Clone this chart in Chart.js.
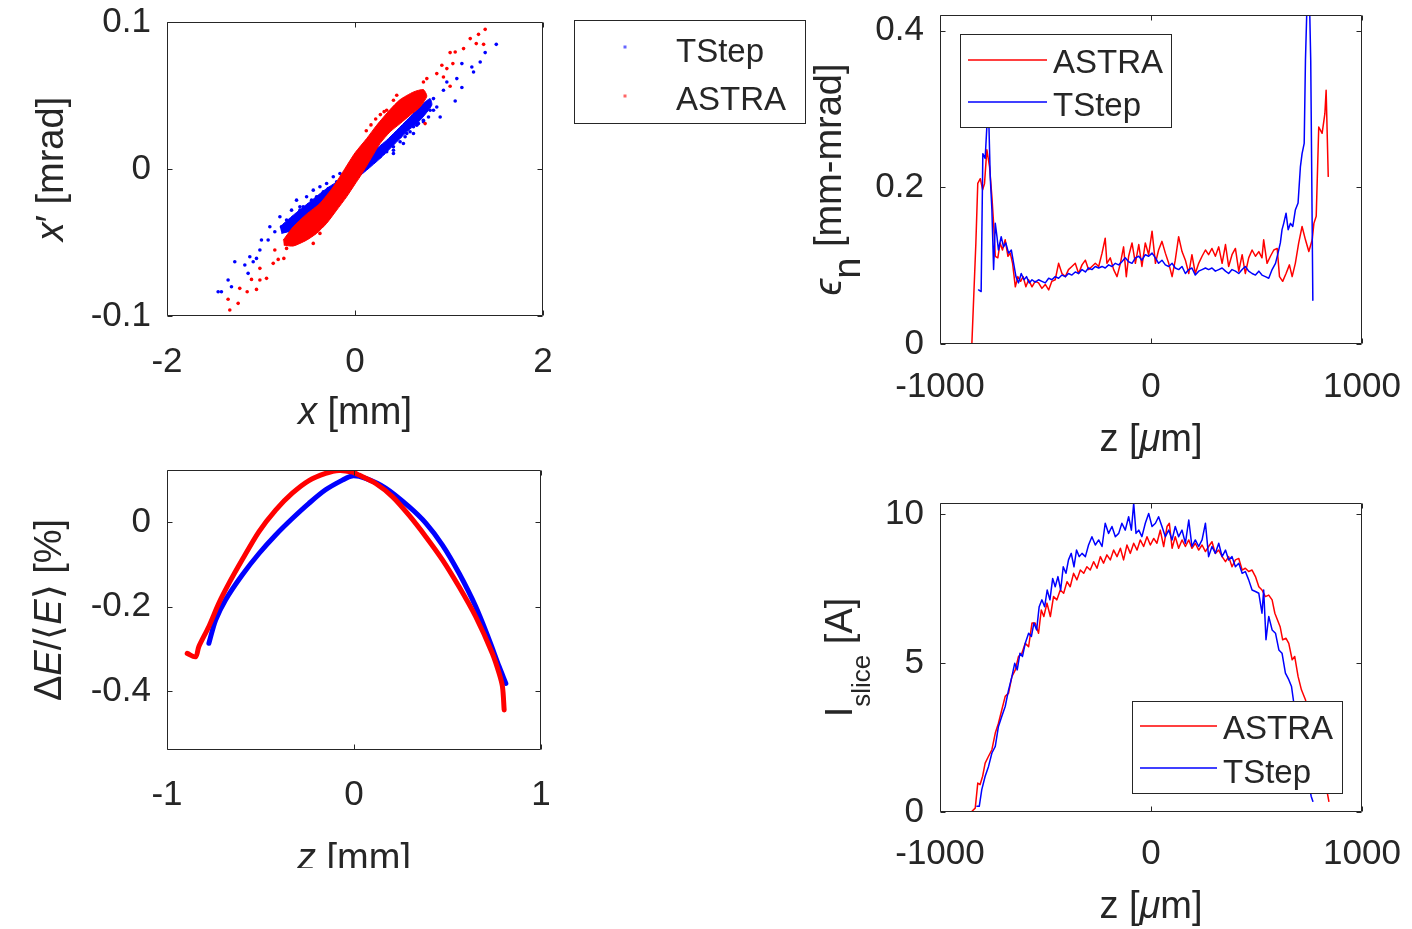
<!DOCTYPE html>
<html>
<head>
<meta charset="utf-8">
<script src="https://cdn.jsdelivr.net/npm/chart.js@4.4.1/dist/chart.umd.min.js"></script>
<style>
html, body { margin: 0; background: #fff; }
#fig { position: relative; width: 1412px; height: 929px; overflow: hidden; background: #fff; }
canvas { position: absolute; }
</style>
</head>
<body>
<div id="fig">
  <canvas id="phase" width="820" height="455" style="left:0;top:0"></canvas>
  <canvas id="espread" width="600" height="413" style="left:0;top:455px"></canvas>
  <canvas id="emit" width="622" height="470" style="left:790px;top:0"></canvas>
  <canvas id="current" width="622" height="459" style="left:790px;top:470px"></canvas>
</div>
<script>
// x - x' phase space: halo particles [mm], [mrad]
const tstepHaloX = [1.503,1.385,1.332,1.261,1.243,1.137,1.137,1.083,1.066,0.977,0.941,0.906,0.870,0.835,0.799,0.728,0.657,0.551,0.480,0.409,0.373,0.302,
  0.266,0.337,0.409,0.480,0.533,0.586,0.622,0.675,0.728,0.782,0.835,0.409,0.515,0.622,
  -1.456,-1.421,-1.350,-1.314,-1.279,-1.172,-1.137,-1.083,-1.048,-1.119,-1.012,-0.995,-0.924,-0.906,-0.853,-0.799,-0.782,-0.728,-0.675,-0.622,-0.586,-0.515,-0.444,-0.373,-0.302,-0.231,-0.160,
  -0.586,-0.551,-0.497,-0.462,-0.409,-0.337,-0.284,-0.195,-0.124];
const tstepHaloXp = [0.0848,0.0792,0.0728,0.0660,0.0694,0.0717,0.0554,0.0615,0.0463,0.0592,0.0536,0.0354,0.0422,0.0479,0.0400,0.0332,0.0298,0.0241,0.0219,0.0128,0.0173,0.0105,
  0.0083,0.0117,0.0151,0.0185,0.0219,0.0253,0.0287,0.0309,0.0321,0.0354,0.0400,0.0105,0.0173,0.0241,
  -0.0835,-0.0835,-0.0755,-0.0801,-0.0631,-0.0653,-0.0710,-0.0631,-0.0608,-0.0597,-0.0551,-0.0483,-0.0483,-0.0393,-0.0427,-0.0325,-0.0393,-0.0347,-0.0280,-0.0212,-0.0257,-0.0189,-0.0144,-0.0121,-0.0099,-0.0053,-0.0031,
  -0.0280,-0.0257,-0.0246,-0.0212,-0.0189,-0.0155,-0.0133,-0.0087,-0.0065];
const astraHaloX = [1.385,1.314,1.226,1.290,1.368,1.155,1.012,1.066,0.924,0.977,1.041,0.870,0.941,1.012,0.764,0.728,0.746,0.444,0.409,0.337,
  0.12,0.17,0.22,0.27,0.31,
  -1.332,-1.350,-1.243,-1.226,-1.147,-1.048,-1.101,-1.012,-0.941,-1.012,-0.870,-0.817,-0.757,-0.853,-0.728,-0.444,-0.373,-0.337,-0.302];
const astraHaloXp = [0.0950,0.0916,0.0887,0.0853,0.0848,0.0819,0.0792,0.0796,0.0706,0.0683,0.0717,0.0649,0.0626,0.0563,0.0615,0.0592,0.0309,0.0502,0.0468,0.0400,
  0.0260,0.0300,0.0340,0.0370,0.0390,
  -0.0959,-0.0886,-0.0914,-0.0812,-0.0835,-0.0819,-0.0751,-0.0755,-0.0744,-0.0676,-0.0642,-0.0615,-0.0608,-0.0551,-0.0540,-0.0506,-0.0438,-0.0348,-0.0280];

// outline of the dense beam core
const tstepCoreX = [-0.799,-0.657,-0.480,-0.302,-0.089,0.124,0.337,0.551,0.728,0.799,0.817,0.693,0.551,0.409,0.266,0.124,-0.089,-0.302,-0.480,-0.657,-0.782];
const tstepCoreXp = [-0.0393,-0.0314,-0.0223,-0.0133,-0.0042,0.0083,0.0196,0.0332,0.0445,0.0479,0.0434,0.0332,0.0253,0.0162,0.0071,-0.0008,-0.0121,-0.0234,-0.0325,-0.0416,-0.0438];
const astraCoreX = [-0.764,-0.657,-0.515,-0.373,-0.231,-0.107,0,0.124,0.231,0.373,0.480,0.622,0.728,0.764,0.693,0.586,0.480,0.373,0.266,0.160,0.053,0,-0.089,-0.195,-0.302,-0.409,-0.515,-0.657,-0.757];
const astraCoreXp = [-0.0484,-0.0393,-0.0307,-0.0234,-0.0121,0.0003,0.0110,0.0207,0.0298,0.0404,0.0472,0.0524,0.0540,0.0495,0.0422,0.0366,0.0309,0.0253,0.0173,0.0060,-0.0053,-0.0103,-0.0189,-0.0280,-0.0370,-0.0438,-0.0484,-0.0524,-0.0518];

// energy spread vs z [mm], [%]
const tstepZ = [-0.776,-0.740,-0.687,-0.598,-0.508,-0.419,-0.330,-0.241,-0.152,-0.062,-0.009,0.062,0.169,0.294,0.384,0.473,0.562,0.651,0.723,0.776,0.812];
const tstepDE = [-0.287,-0.232,-0.184,-0.125,-0.074,-0.030,0.009,0.045,0.077,0.100,0.110,0.104,0.081,0.037,-0.002,-0.054,-0.121,-0.200,-0.279,-0.342,-0.382];
const astraZ = [-0.892,-0.847,-0.830,-0.776,-0.723,-0.669,-0.598,-0.508,-0.419,-0.330,-0.241,-0.152,-0.080,-0.009,0.027,0.116,0.205,0.294,0.384,0.473,0.562,0.651,0.740,0.776,0.794,0.803];
const astraDE = [-0.311,-0.319,-0.295,-0.247,-0.192,-0.145,-0.089,-0.022,0.029,0.069,0.099,0.116,0.123,0.119,0.112,0.092,0.061,0.017,-0.034,-0.089,-0.153,-0.224,-0.311,-0.358,-0.390,-0.445];

// slice emittance vs z [um], [mm-mrad]
const astraEmitZ = [-849,-830,-821,-809,-798,-789,-778,-765,-754,-746,-738,-726,-715,-704,-691,-678,-667,-656,-643,-631,
  -618,-606,-593,-580,-564,-549,-533,-517,-501,-485,-470,-454,-438,-422,-406,-391,-375,-359,-343,-327,
  -311,-296,-280,-264,-248,-232,-217,-209,-193,-177,-161,-145,-130,-117,-106,-90,-74,-58,-43,-27,
  -11,5,21,36,52,68,84,100,115,131,147,163,179,194,210,226,242,258,273,289,
  305,321,337,353,368,384,400,416,432,447,463,479,495,511,526,534,550,566,582,598,
  609,624,640,656,669,684,700,716,732,748,764,772,783,795,811,824,830,840];
const astraEmit = [0.000,0.129,0.205,0.211,0.197,0.205,0.248,0.226,0.188,0.154,0.112,0.110,0.129,0.120,0.133,0.112,0.116,0.103,0.073,0.086,
  0.080,0.086,0.073,0.082,0.073,0.080,0.078,0.071,0.076,0.069,0.080,0.082,0.103,0.090,0.086,0.095,0.099,0.103,0.090,0.101,
  0.107,0.095,0.099,0.103,0.099,0.116,0.135,0.103,0.110,0.095,0.086,0.103,0.124,0.086,0.112,0.129,0.103,0.127,0.099,0.129,
  0.114,0.144,0.103,0.120,0.131,0.116,0.103,0.086,0.107,0.137,0.118,0.107,0.090,0.114,0.090,0.103,0.112,0.120,0.114,0.122,
  0.112,0.124,0.103,0.127,0.099,0.114,0.122,0.093,0.114,0.090,0.110,0.120,0.112,0.118,0.110,0.133,0.103,0.112,0.120,0.122,
  0.086,0.080,0.090,0.101,0.086,0.103,0.129,0.150,0.133,0.118,0.133,0.154,0.163,0.277,0.269,0.294,0.324,0.214];
const tstepEmitZ = [-817,-805,-797,-786,-778,-770,-762,-754,-746,-738,-730,-723,-710,-699,-688,-675,-662,-651,-640,-628,
  -615,-602,-590,-577,-564,-549,-533,-517,-501,-485,-470,-454,-438,-422,-406,-391,-375,-359,-343,-327,
  -311,-296,-280,-264,-248,-232,-217,-201,-185,-169,-153,-138,-122,-106,-90,-74,-58,-43,-27,-11,
  5,21,36,52,68,84,100,115,131,147,163,179,194,210,226,242,258,273,289,305,
  321,337,353,368,384,400,416,432,447,463,479,495,511,526,542,558,574,590,602,613,
  621,629,640,650,661,672,684,697,708,716,726,732,740,751,757,767];
const tstepEmit = [0.069,0.067,0.243,0.237,0.277,0.299,0.214,0.171,0.095,0.154,0.137,0.120,0.137,0.124,0.129,0.116,0.120,0.103,0.086,0.078,
  0.090,0.082,0.086,0.078,0.082,0.079,0.082,0.080,0.078,0.084,0.082,0.086,0.084,0.088,0.086,0.090,0.088,0.092,0.090,0.095,
  0.092,0.097,0.095,0.099,0.097,0.099,0.097,0.101,0.099,0.103,0.101,0.105,0.110,0.105,0.103,0.110,0.112,0.107,0.114,0.112,
  0.116,0.110,0.103,0.107,0.101,0.099,0.103,0.097,0.095,0.099,0.090,0.095,0.097,0.088,0.093,0.095,0.097,0.095,0.097,0.093,
  0.095,0.097,0.093,0.090,0.095,0.093,0.090,0.095,0.099,0.093,0.090,0.088,0.093,0.088,0.086,0.084,0.095,0.103,0.116,0.129,
  0.146,0.154,0.167,0.146,0.154,0.150,0.171,0.180,0.226,0.243,0.256,0.362,0.440,0.440,0.362,0.056];

// slice current vs z [um], [A]
const astraCurZ = [-852,-833,-821,-810,-798,-786,-770,-754,-738,-723,-707,-691,-675,-659,-643,-628,-612,-596,-580,-564,
  -549,-533,-520,-508,-493,-477,-462,-446,-430,-414,-398,-383,-367,-351,-335,-319,-304,-288,-272,-256,
  -240,-225,-209,-193,-177,-161,-145,-130,-114,-98,-82,-66,-51,-35,-19,-3,13,28,44,60,
  76,87,100,115,131,147,163,179,194,210,226,242,258,273,289,305,321,337,353,368,
  384,400,416,432,447,463,479,495,511,526,542,558,574,587,599,612,624,640,653,669,
  681,697,713,732,748,764,779,795,811,827,843];
const astraCur = [0.00,0.13,0.97,0.92,1.20,1.64,1.87,2.09,2.65,2.98,3.43,3.88,3.99,4.55,4.77,5.22,5.33,5.66,5.55,6.34,
  6.34,6.00,6.78,6.56,7.01,6.56,7.23,7.12,7.45,7.34,7.73,7.56,8.01,7.79,8.12,8.01,8.23,8.12,8.40,8.18,
  8.57,8.35,8.63,8.46,8.79,8.57,8.85,8.46,8.96,8.68,9.02,8.79,9.13,8.91,9.24,8.96,9.18,9.02,9.46,8.91,
  9.58,9.69,8.85,9.24,8.85,9.13,8.91,9.13,8.85,9.02,8.79,8.96,8.74,8.91,9.07,8.68,8.79,8.57,8.40,8.57,
  8.23,8.46,8.51,8.12,8.18,8.07,8.12,7.90,7.56,7.45,7.23,7.28,7.12,6.67,6.45,6.22,5.78,5.83,5.66,5.11,
  5.22,4.55,4.10,3.77,3.21,2.76,2.31,1.87,1.42,0.97,0.36];
const tstepCurZ = [-825,-814,-802,-786,-770,-754,-738,-723,-707,-691,-675,-659,-646,-634,-621,-609,-596,-580,-567,-555,
  -542,-530,-517,-504,-492,-479,-466,-454,-441,-428,-416,-403,-391,-378,-365,-353,-340,-327,-311,-296,
  -280,-264,-248,-232,-217,-201,-185,-169,-153,-138,-122,-106,-93,-82,-71,-58,-43,-27,-11,5,
  21,36,52,68,84,100,115,131,147,163,179,194,210,226,242,258,273,289,305,321,
  337,353,368,384,400,416,432,447,463,479,495,511,526,534,545,558,574,590,606,621,
  637,653,666,677,688,704,719,735,748,759,767];
const tstepCur = [0.19,0.19,0.75,1.20,1.53,1.98,2.20,2.87,3.21,3.54,4.10,4.55,4.99,4.77,5.33,5.22,5.66,6.00,5.89,6.34,
  6.11,6.89,7.12,6.89,7.45,7.12,7.84,7.56,7.90,7.45,8.23,8.01,8.46,8.68,8.23,8.79,8.57,8.68,8.57,8.96,
  9.24,8.96,9.13,8.91,9.69,9.35,9.58,9.24,9.35,9.69,9.46,9.91,9.46,10.36,9.35,9.46,9.24,9.69,10.02,9.58,
  9.69,9.91,9.58,9.24,9.46,9.13,9.58,9.24,9.46,9.02,9.80,8.91,9.13,8.91,9.13,9.69,8.57,8.91,8.68,9.02,
  8.57,8.79,8.46,8.57,8.23,8.35,8.01,8.07,7.79,7.45,7.40,7.34,6.67,7.45,5.78,6.56,6.11,6.00,5.44,5.33,
  4.66,4.44,4.21,3.65,3.21,2.65,2.20,1.53,0.97,0.53,0.36];

// tick values
const phaseXTicks = [-2, 0, 2];
const phaseYTicks = [-0.1, 0, 0.1];
const dzTicks = [-1, 0, 1];
const dEYTicks = [-0.4, -0.2, 0];
const zumTicks = [-1000, 0, 1000];
const emitTicks = [0, 0.2, 0.4];
const curTicks = [0, 5, 10];

const FAMILY = '"Liberation Sans", Arial, Helvetica, sans-serif';
const INK = '#262626';
const RED = '#ff0000';
const BLUE = '#0000ff';
Chart.defaults.font.family = FAMILY;
Chart.defaults.color = INK;
Chart.defaults.animation = false;
Chart.defaults.events = [];
Chart.defaults.plugins.legend.display = false;
Chart.defaults.plugins.tooltip.enabled = false;

const pts = (xs, ys) => xs.map((x, i) => ({ x: x, y: ys[i] }));
const fmt = v => String(+(+v).toFixed(3));

// fixed-size axis so the plot box lands where the figure has it
function axis(min, max, ticks, size, pad, isX) {
    return {
        type: 'linear', min: min, max: max,
        grid: { display: false }, border: { display: false },
        afterBuildTicks: s => { s.ticks = ticks.map(v => ({ value: v })); },
        ticks: { padding: pad, autoSkip: false, maxRotation: 0, font: { size: 35 }, color: INK, callback: fmt },
        afterFit: s => {
            if (isX) s.height = size; else s.width = size;
            s.paddingLeft = s.paddingRight = s.paddingTop = s.paddingBottom = 0;
        }
    };
}

// matlab style box with inward ticks
const frame = {
    id: 'frame',
    afterDatasetsDraw(chart) {
        const { ctx, chartArea: a, scales } = chart;
        const L = Math.round(a.left) + 0.5, R = Math.round(a.right) - 0.5;
        const T = Math.round(a.top) + 0.5, B = Math.round(a.bottom) - 0.5;
        ctx.save();
        ctx.strokeStyle = INK;
        ctx.lineWidth = 1;
        ctx.beginPath();
        ctx.rect(L, T, R - L, B - T);
        scales.x.ticks.forEach(t => {
            const p = Math.round(scales.x.getPixelForValue(t.value)) + 0.5;
            ctx.moveTo(p, B); ctx.lineTo(p, B - 5);
            ctx.moveTo(p, T); ctx.lineTo(p, T + 5);
        });
        scales.y.ticks.forEach(t => {
            const p = Math.round(scales.y.getPixelForValue(t.value)) + 0.5;
            ctx.moveTo(L, p); ctx.lineTo(L + 5, p);
            ctx.moveTo(R, p); ctx.lineTo(R - 5, p);
        });
        ctx.stroke();
        ctx.restore();
    }
};

function drawRich(ctx, segs, cx, base, size) {
    const fonts = segs.map(s => (s.i ? 'italic ' : '') + Math.round(size * (s.k || 1)) + 'px ' + FAMILY);
    let total = 0;
    const w = segs.map((s, k) => { ctx.font = fonts[k]; const m = ctx.measureText(s.t).width; total += m; return m; });
    let x = cx - total / 2;
    segs.forEach((s, k) => {
        ctx.font = fonts[k];
        ctx.fillText(s.t, x, base + (s.dy || 0));
        x += w[k];
    });
}

// axis labels with italics / subscripts
function titles(xSegs, xOff, ySegs, yOff) {
    return {
        id: 'richTitles',
        afterDraw(chart) {
            const { ctx, chartArea: a } = chart;
            ctx.save();
            ctx.fillStyle = INK;
            ctx.textAlign = 'left';
            ctx.textBaseline = 'alphabetic';
            drawRich(ctx, xSegs, (a.left + a.right) / 2, a.bottom + xOff, 38);
            ctx.translate(a.left - yOff, (a.top + a.bottom) / 2);
            ctx.rotate(-Math.PI / 2);
            drawRich(ctx, ySegs, 0, 0, 38);
            ctx.restore();
        }
    };
}

// boxed legend, rows point at dataset indices
function boxLegend(box, rows, kind) {
    return {
        id: 'boxLegend',
        afterDraw(chart) {
            const ctx = chart.ctx;
            ctx.save();
            ctx.fillStyle = '#fff';
            ctx.fillRect(box.x, box.y, box.w, box.h);
            ctx.strokeStyle = INK;
            ctx.lineWidth = 1;
            ctx.strokeRect(box.x + 0.5, box.y + 0.5, box.w, box.h);
            ctx.font = '33px ' + FAMILY;
            ctx.textAlign = 'left';
            ctx.textBaseline = 'alphabetic';
            rows.forEach(r => {
                const ds = chart.data.datasets[r.ds];
                const col = ds.borderColor || ds.backgroundColor;
                if (kind === 'dot') {
                    ctx.fillStyle = col;
                    ctx.globalAlpha = 0.6;
                    ctx.fillRect(box.sx - 1.5, r.y - 1.5, 3, 3);
                    ctx.globalAlpha = 1;
                } else {
                    ctx.strokeStyle = col;
                    ctx.lineWidth = 1.5;
                    ctx.beginPath();
                    ctx.moveTo(box.sx, r.y); ctx.lineTo(box.ex, r.y);
                    ctx.stroke();
                }
                ctx.fillStyle = INK;
                ctx.fillText(ds.label, box.tx, r.b);
            });
            ctx.restore();
        }
    };
}

function halo(label, xs, ys, color, order) {
    return { label: label, data: pts(xs, ys), backgroundColor: color, borderColor: color,
             pointRadius: 1.8, pointBorderWidth: 0, order: order };
}
function core(label, xs, ys, color, order) {
    return { type: 'line', label: label, data: pts(xs, ys), fill: 'shape', backgroundColor: color,
             borderColor: color, borderWidth: 1, pointRadius: 0, tension: 0.2, order: order };
}
function trace(label, xs, ys, color, width, order, tension) {
    return { label: label, data: pts(xs, ys), borderColor: color, backgroundColor: color,
             borderWidth: width, pointRadius: 0, tension: tension, borderJoinStyle: 'round',
             borderCapStyle: 'round', fill: false, order: order };
}

// top left: phase space
new Chart(document.getElementById('phase'), {
    type: 'scatter',
    data: { datasets: [
        halo('TStep', tstepHaloX, tstepHaloXp, BLUE, 3),
        halo('ASTRA', astraHaloX, astraHaloXp, RED, 1),
        core('TStep core', tstepCoreX, tstepCoreXp, BLUE, 4),
        core('ASTRA core', astraCoreX, astraCoreXp, RED, 2)
    ] },
    options: {
        responsive: false,
        layout: { padding: { top: 22, right: 277, left: 0, bottom: 0 } },
        scales: { x: axis(-2, 2, phaseXTicks, 139, 17, true), y: axis(-0.1, 0.1, phaseYTicks, 167, 8, false) }
    },
    plugins: [frame,
        titles([{ t: 'x', i: 1 }, { t: ' [mm]' }], 108, [{ t: 'x', i: 1 }, { t: '\u2032 [mrad]' }], 104),
        boxLegend({ x: 574, y: 20, w: 231, h: 103, sx: 625, tx: 676 }, [{ ds: 0, y: 47, b: 62 }, { ds: 1, y: 96, b: 110 }], 'dot')]
});

// bottom left: energy spread
new Chart(document.getElementById('espread'), {
    type: 'scatter',
    data: { datasets: [
        Object.assign(trace('TStep', tstepZ, tstepDE, BLUE, 5, 2, 0.3), { showLine: true }),
        Object.assign(trace('ASTRA', astraZ, astraDE, RED, 5, 1, 0.3), { showLine: true })
    ] },
    options: {
        responsive: false,
        layout: { padding: { top: 15, right: 59, left: 0, bottom: 0 } },
        scales: { x: axis(-1, 1, dzTicks, 118, 16, true), y: axis(-0.54, 0.124, dEYTicks, 167, 8, false) }
    },
    plugins: [frame,
        titles([{ t: 'z', i: 1 }, { t: ' [mm]' }], 120,
               [{ t: '\u0394' }, { t: 'E', i: 1 }, { t: '/\u27E8' }, { t: 'E', i: 1 }, { t: '\u27E9 [%]' }], 106)]
});

// top right: slice emittance
new Chart(document.getElementById('emit'), {
    type: 'line',
    data: { datasets: [
        trace('ASTRA', astraEmitZ, astraEmit, RED, 1.5, 2, 0),
        trace('TStep', tstepEmitZ, tstepEmit, BLUE, 1.5, 1, 0)
    ] },
    options: {
        responsive: false,
        layout: { padding: { top: 15, right: 50, left: 0, bottom: 0 } },
        scales: { x: axis(-1000, 1000, zumTicks, 126, 14, true), y: axis(0, 0.42, emitTicks, 150, 8, false) }
    },
    plugins: [frame,
        titles([{ t: 'z [' }, { t: '\u03BC', i: 1 }, { t: 'm]' }], 107,
               [{ t: '\u03F5', i: 1 }, { t: 'n', dy: 19 }, { t: ' [mm-mrad]' }], 99),
        boxLegend({ x: 170, y: 34, w: 211, h: 93, sx: 178, ex: 257, tx: 263 }, [{ ds: 0, y: 60, b: 73 }, { ds: 1, y: 102, b: 116 }], 'line')]
});

// bottom right: slice current
new Chart(document.getElementById('current'), {
    type: 'line',
    data: { datasets: [
        trace('ASTRA', astraCurZ, astraCur, RED, 1.5, 2, 0),
        trace('TStep', tstepCurZ, tstepCur, BLUE, 1.5, 1, 0)
    ] },
    options: {
        responsive: false,
        layout: { padding: { top: 33, right: 50, left: 0, bottom: 0 } },
        scales: { x: axis(-1000, 1000, zumTicks, 117, 13, true), y: axis(0, 10.37, curTicks, 150, 8, false) }
    },
    plugins: [frame,
        titles([{ t: 'z [' }, { t: '\u03BC', i: 1 }, { t: 'm]' }], 106,
               [{ t: 'I' }, { t: 'slice', dy: 18, k: 0.68 }, { t: ' [A]' }], 88),
        boxLegend({ x: 342, y: 231, w: 210, h: 92, sx: 350, ex: 427, tx: 433 }, [{ ds: 0, y: 256, b: 269 }, { ds: 1, y: 298, b: 313 }], 'line')]
});
</script>
</body>
</html>
